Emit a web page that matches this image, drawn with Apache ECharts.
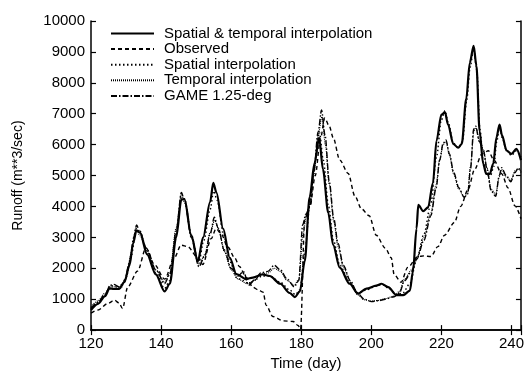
<!DOCTYPE html>
<html>
<head>
<meta charset="utf-8">
<script src="https://cdn.jsdelivr.net/npm/echarts@6/dist/echarts.min.js"></script>
<style>html,body{margin:0;padding:0;background:#fff}#c{width:527px;height:376px}</style>
</head>
<body>
<div id="c"></div>
<script>
const seriesNames = ["Spatial & temporal interpolation", "Observed", "Spatial interpolation", "Temporal interpolation", "GAME 1.25-deg"];
const xTicks = [120, 140, 160, 180, 200, 220, 240];
const yTicks = [0, 1000, 2000, 3000, 4000, 5000, 6000, 7000, 8000, 9000, 10000];

const stDays = [120,122,124,125.3,126.5,128,129.5,131,132,133,134,136,138.5,141,142.5,144.3,145.8,146.7,148.6,150.5,152,154,154.9,155.8,157.7,159.6,161.5,164.3,166.2,169,171,174,176.7,178.2,179.6,181,182.4,183.8,185.1,186.2,187.7,189.1,191,193.8,196.2,198.6,201.4,202.9,204.8,207.2,209.1,211,211.9,212.9,213.4,214.8,216.2,217.6,218.6,220,221,221.9,223.4,224.8,225.8,227.1,228.1,229.2,230,230.9,231.9,232.8,233.8,234.8,235.7,236.6,237.3,238.6,240,241.4,242.7];
const stVals = [650,850,1100,1350,1330,1330,1550,2100,2800,3230,3150,2450,1800,1250,1500,3000,4230,4230,3070,2230,3000,4150,4760,4450,3280,2340,1810,1650,1700,1800,1750,1500,1200,1070,1250,2230,4300,5400,6230,5200,3800,2760,2020,1500,1180,1340,1440,1500,1390,1130,1130,1280,1920,3280,4050,3850,3970,4760,6130,6970,7050,6650,6020,5900,6020,7490,8650,9200,8550,6440,5390,5050,5050,5390,6230,6650,6300,5810,5700,5860,5500];

const obsDays = [120,122,124.8,126.7,128,129,130.5,133.3,135.7,138.1,141,143.8,145.7,147.6,150.5,151.9,154.3,155.7,157.1,159,161,162.4,164.3,166.2,167.7,169.1,170,171.9,174.8,177.7,179.1,179.8,181,182.5,184,185.5,186.7,188,189.1,191,193.4,195.3,197.2,199.4,201.4,204,205.7,206.5,208.5,210.4,213.3,215,217,219,220.9,223.7,225.5,227.6,229.5,231.5,233.4,235,237.2,239,241,242.7];
const obsVals = [550,650,860,965,880,700,1400,1910,2660,2120,1650,2340,2750,2700,2340,2120,2960,3280,3120,2700,2340,2050,1700,1390,1300,1230,800,440,300,280,150,30,3600,4000,5000,6200,6860,6600,6230,5500,5070,4340,3920,3700,3070,2650,2340,1800,1550,2030,2380,2400,2380,2700,3070,3480,4000,4550,5200,5690,5800,5500,5060,4600,4020,3600];

const spDays = [120,122,124,125.5,127,128.5,130,131.5,132.8,134,136,138.5,141,142.5,144.3,145.8,146.7,148.6,150.7,152.2,154,155,156,157.8,159.7,161.5,163.5,165,167,169,171,174,176.7,178.3,179.6,181,182.5,183.8,185.2,186.3,187.8,189.2,191,193.8,196.2,198.6,201.4,203,205,207.2,209,211,213,215,217,218.6,220,221,222,223.4,224.8,226,227.2,228.2,229.2,230.1,231,232,233,234,235,235.8,236.6,237.4,238.6,240,241.4,242.7];
const spVals = [700,900,1150,1450,1400,1400,1700,2400,3200,3200,2500,1850,1350,1600,3100,4300,4250,3100,2150,2900,3900,4500,4200,3100,2200,1700,1600,1500,1650,1750,1750,1550,1300,1150,1300,2500,4100,5300,6400,5500,4000,2900,2100,1550,1200,1300,1420,1480,1350,1150,1200,1500,2300,3100,4100,5600,6800,7100,6700,6050,5900,6100,7400,8500,9100,8400,6500,5400,5000,5000,5300,6100,6600,6200,5800,5650,5800,5600];

const tmDays = [120,122,124,125.8,127,128.5,130,131.5,132.8,134,136,138.5,141,142.5,144.3,145.8,146.8,148.6,150.8,152.5,154,155.3,156.5,158,160,162,164.5,166.5,168.5,170.5,172.3,174,176,178,179.3,180.5,181.5,182.5,183.6,184.8,185.9,186.9,188,189.3,190.5,192,194,196,198,200,202,204,206.5,208,209.5,211.5,213,215,217,218.5,219.5,220.5,221.3,222.3,223.5,225,226.5,227.5,228.3,229.3,229.9,230.8,232,233,234.2,235.5,236.5,237.2,238.5,239.8,241,242,242.7];
const tmVals = [750,950,1200,1400,1400,1350,1700,2500,3300,3050,2550,1950,1550,1850,3300,4400,4100,3050,2100,2450,3150,3550,3250,2550,1950,1650,1500,1600,1800,1850,2000,1900,1600,1450,1650,3100,3700,4100,5100,6300,6900,6000,4700,3500,2700,2050,1550,1150,980,940,960,1020,1100,1250,1650,1950,2350,3000,3800,4700,5500,6000,6100,5650,5050,4550,4300,4450,5300,6450,6550,6150,5850,5250,4550,4400,4950,5200,4950,4850,5150,5200,5150];

const gmDays = [120,122,124,125.5,126.5,128,129.5,131,132.2,133,134,136,138.5,141,142.5,144.3,145.8,146.8,148.6,150.8,152.5,154,155.2,156.3,158,160,162,163.5,165,166.5,168.5,170.5,172.3,174,176,178,179.3,180.4,181.3,182.5,183.5,184.8,185.8,186.8,188,189.3,190.5,192,194,196,198,200,202,204,206.5,208,209.5,211.5,213,215,217,218.5,219.5,220.5,221.3,222.3,223.5,225,226.5,227.5,228.3,229.2,229.8,230.8,232,233,234.2,235.5,236.5,237.2,238.5,239.8,241,242,242.7];
const gmVals = [700,900,1150,1450,1480,1400,1550,2200,3000,3400,3150,2600,1950,1500,1800,3200,4450,4150,3000,2050,2400,3100,3650,3300,2600,2000,1750,1900,1450,1600,1850,1900,2100,1950,1650,1400,1600,3400,3750,4000,5000,6400,7120,6300,4800,3600,2800,2100,1600,1200,1000,920,950,1000,1080,1200,1600,1900,2300,2900,3700,4600,5500,6050,6150,5700,5100,4600,4300,4400,5200,6500,6600,6100,5800,5200,4500,4330,5000,5250,5000,4800,5100,5250,5100];

function pairs(d, v) { return d.map((x, i) => [x, v[i]]); }

const FONT = "Liberation Sans, Arial, sans-serif";
const chart = echarts.init(document.getElementById('c'), null, {renderer: 'canvas'});

function mk(name, d, v, type, width, z) {
  return {
    name: name, type: 'line', data: pairs(d, v), showSymbol: false, symbol: 'none',
    smooth: 0.3, smoothMonotone: 'x', z: z,
    lineStyle: {color: '#000', width: width, type: type},
    itemStyle: {color: '#000'}
  };
}

const xLabelFmt = v => (xTicks.indexOf(v) >= 0 ? String(v) : '');

chart.setOption({
  animation: false,
  backgroundColor: '#fff',
  grid: {left: 91, right: 6, top: 21, bottom: 39, containLabel: false},
  legend: {
    data: seriesNames, orient: 'vertical', left: 110, top: 26, padding: 0,
    itemWidth: 43, itemHeight: 12, itemGap: 0.6,
    itemStyle: {opacity: 0},
    textStyle: {fontFamily: FONT, fontSize: 15, lineHeight: 15, color: '#000', padding: [0, 0, 0, 5]}
  },
  xAxis: [{
    type: 'value', min: 120, max: 242.7, interval: 20, position: 'bottom',
    name: 'Time (day)', nameLocation: 'middle', nameGap: 25,
    nameTextStyle: {fontFamily: FONT, fontSize: 15, color: '#000'},
    axisLine: {lineStyle: {color: '#000', width: 1.5}},
    axisTick: {inside: true, length: 5, lineStyle: {color: '#000', width: 1.2}},
    axisLabel: {fontFamily: FONT, fontSize: 15, color: '#000', margin: 6, formatter: xLabelFmt},
    splitLine: {show: false}
  }, {
    type: 'value', min: 120, max: 242.7, interval: 20, position: 'top',
    axisLine: {lineStyle: {color: '#000', width: 1.5}},
    axisTick: {inside: true, length: 5, lineStyle: {color: '#000', width: 1.2}},
    axisLabel: {show: false}, splitLine: {show: false}
  }],
  yAxis: [{
    type: 'value', min: 0, max: 10000, interval: 1000, position: 'left',
    name: 'Runoff (m**3/sec)', nameLocation: 'middle', nameGap: 66,
    nameTextStyle: {fontFamily: FONT, fontSize: 14, color: '#000'},
    axisLine: {show: true, lineStyle: {color: '#000', width: 1.5}},
    axisTick: {show: true, inside: true, length: 5, lineStyle: {color: '#000', width: 1.2}},
    axisLabel: {fontFamily: FONT, fontSize: 15, color: '#000', margin: 6,
      formatter: v => (yTicks.indexOf(v) >= 0 ? String(v) : '')},
    splitLine: {show: false}
  }, {
    type: 'value', min: 0, max: 10000, interval: 1000, position: 'right',
    axisLine: {show: true, lineStyle: {color: '#000', width: 1.5}},
    axisTick: {show: true, inside: true, length: 5, lineStyle: {color: '#000', width: 1.2}},
    axisLabel: {show: false}, splitLine: {show: false}
  }],
  series: [
    mk(seriesNames[1], obsDays, obsVals, [4, 3], 1.4, 2),
    mk(seriesNames[4], gmDays, gmVals, [6, 2, 1.5, 2], 1.4, 3),
    mk(seriesNames[3], tmDays, tmVals, [1, 1], 1.1, 4),
    mk(seriesNames[2], spDays, spVals, [1.5, 2.5], 1.4, 5),
    mk(seriesNames[0], stDays, stVals, 'solid', 2.2, 6)
  ]
});
</script>
</body>
</html>
